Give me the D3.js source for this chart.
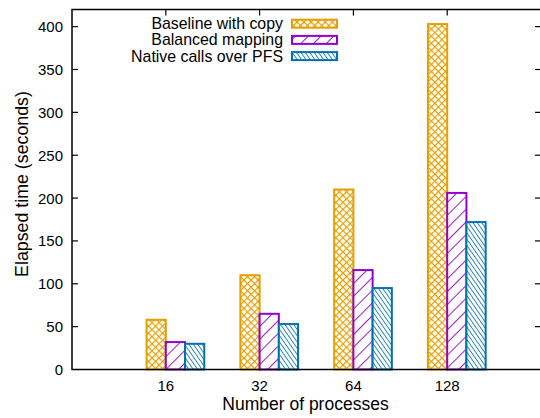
<!DOCTYPE html>
<html>
<head>
<meta charset="utf-8">
<script src="https://cdn.jsdelivr.net/npm/d3@7"></script>
<style>
  body { margin: 0; background: #fff; }
  text { font-family: "Liberation Sans", Arial, sans-serif; fill: #000; }
</style>
</head>
<body>
<svg id="chart" width="540" height="418"></svg>
<script>
// categories and series
let procs = ["16", "32", "64", "128"];
let seriesNames = ["Baseline with copy", "Balanced mapping", "Native calls over PFS"];
let baseline = [58, 110, 210, 403];
let balanced = [32, 65, 116, 206];
let nativePFS = [30, 53, 95, 172];
let yTicks = [0, 50, 100, 150, 200, 250, 300, 350, 400];

let series = [baseline, balanced, nativePFS];
let colors = ["#e69f00", "#9400d3", "#0072b2"];

let svg = d3.select("#chart");

let plotL = 72, plotR = 541, plotT = 9.5, plotB = 369.5;

let x = d3.scaleLinear().domain([-1, 4]).range([plotL, plotR]);
let y = d3.scaleLinear().domain([0, 420]).range([plotB, plotT]);

// fill patterns (gnuplot style)
let defs = svg.append("defs");

// crosshatch for orange
let p0 = defs.append("pattern")
    .attr("id", "pat0")
    .attr("patternUnits", "userSpaceOnUse")
    .attr("width", 5).attr("height", 5)
    .attr("patternTransform", "rotate(45)");
p0.append("rect").attr("width", 5).attr("height", 5).attr("fill", "#fff");
p0.append("line").attr("x1", 0).attr("y1", 0).attr("x2", 0).attr("y2", 5)
    .attr("stroke", colors[0]).attr("stroke-width", 2.4);
p0.append("line").attr("x1", 0).attr("y1", 0).attr("x2", 5).attr("y2", 0)
    .attr("stroke", colors[0]).attr("stroke-width", 2.4);

// "/" lines for purple
let p1 = defs.append("pattern")
    .attr("id", "pat1")
    .attr("patternUnits", "userSpaceOnUse")
    .attr("width", 9).attr("height", 9)
    .attr("patternTransform", "rotate(45)");
p1.append("rect").attr("width", 9).attr("height", 9).attr("fill", "#fff");
p1.append("line").attr("x1", 0).attr("y1", 0).attr("x2", 0).attr("y2", 9)
    .attr("stroke", colors[1]).attr("stroke-width", 1.8);

// "\" lines for blue
let p2 = defs.append("pattern")
    .attr("id", "pat2")
    .attr("patternUnits", "userSpaceOnUse")
    .attr("width", 3.6).attr("height", 3.6)
    .attr("patternTransform", "rotate(-35)");
p2.append("rect").attr("width", 3.6).attr("height", 3.6).attr("fill", "#fff");
p2.append("line").attr("x1", 0).attr("y1", 0).attr("x2", 0).attr("y2", 3.6)
    .attr("stroke", colors[2]).attr("stroke-width", 1.6);

// bars
let barW = x(0.205) - x(0);
series.forEach((vals, s) => {
    svg.append("g").selectAll("rect")
        .data(vals)
        .join("rect")
        .attr("x", (d, i) => x(i - 0.205 + 0.205 * s))
        .attr("y", d => y(d))
        .attr("width", barW)
        .attr("height", d => y(0) - y(d))
        .attr("fill", "url(#pat" + s + ")")
        .attr("stroke", colors[s])
        .attr("stroke-width", 2);
});

// frame
svg.append("rect")
    .attr("x", plotL).attr("y", plotT)
    .attr("width", plotR - plotL).attr("height", plotB - plotT)
    .attr("fill", "none").attr("stroke", "#000").attr("stroke-width", 1.5);

// y ticks (inward, mirrored)
yTicks.forEach(t => {
    if (t > 0) {
        svg.append("line").attr("x1", plotL).attr("x2", plotL + 6)
            .attr("y1", y(t)).attr("y2", y(t)).attr("stroke", "#000").attr("stroke-width", 1.2);
        svg.append("line").attr("x1", plotR - 6).attr("x2", plotR)
            .attr("y1", y(t)).attr("y2", y(t)).attr("stroke", "#000").attr("stroke-width", 1.2);
    }
    svg.append("text")
        .attr("x", plotL - 9)
        .attr("y", y(t) + 5.5)
        .attr("text-anchor", "end")
        .style("font-size", "15px")
        .text(t);
});

// x ticks
procs.forEach((p, i) => {
    svg.append("line").attr("x1", x(i)).attr("x2", x(i))
        .attr("y1", plotT).attr("y2", plotT + 6).attr("stroke", "#000").attr("stroke-width", 1.2);
    svg.append("text")
        .attr("x", x(i))
        .attr("y", plotB + 21)
        .attr("text-anchor", "middle")
        .style("font-size", "15px")
        .text(p);
});

// axis titles
svg.append("text")
    .attr("x", (plotL + plotR) / 2 - 1)
    .attr("y", 410)
    .attr("text-anchor", "middle")
    .style("font-size", "17.5px")
    .text("Number of processes");

svg.append("text")
    .attr("transform", "translate(28," + 184 + ") rotate(-90)")
    .attr("text-anchor", "middle")
    .style("font-size", "17.8px")
    .text("Elapsed time (seconds)");

// legend
seriesNames.forEach((name, s) => {
    let cy = 23.7 + s * 16.2;
    svg.append("text")
        .attr("x", 283)
        .attr("y", cy + 5.5)
        .attr("text-anchor", "end")
        .style("font-size", "15.9px")
        .text(name);
    svg.append("rect")
        .attr("x", 292).attr("y", cy - 4)
        .attr("width", 45).attr("height", 8)
        .attr("fill", "url(#pat" + s + ")")
        .attr("stroke", colors[s])
        .attr("stroke-width", 2);
});
</script>
</body>
</html>
